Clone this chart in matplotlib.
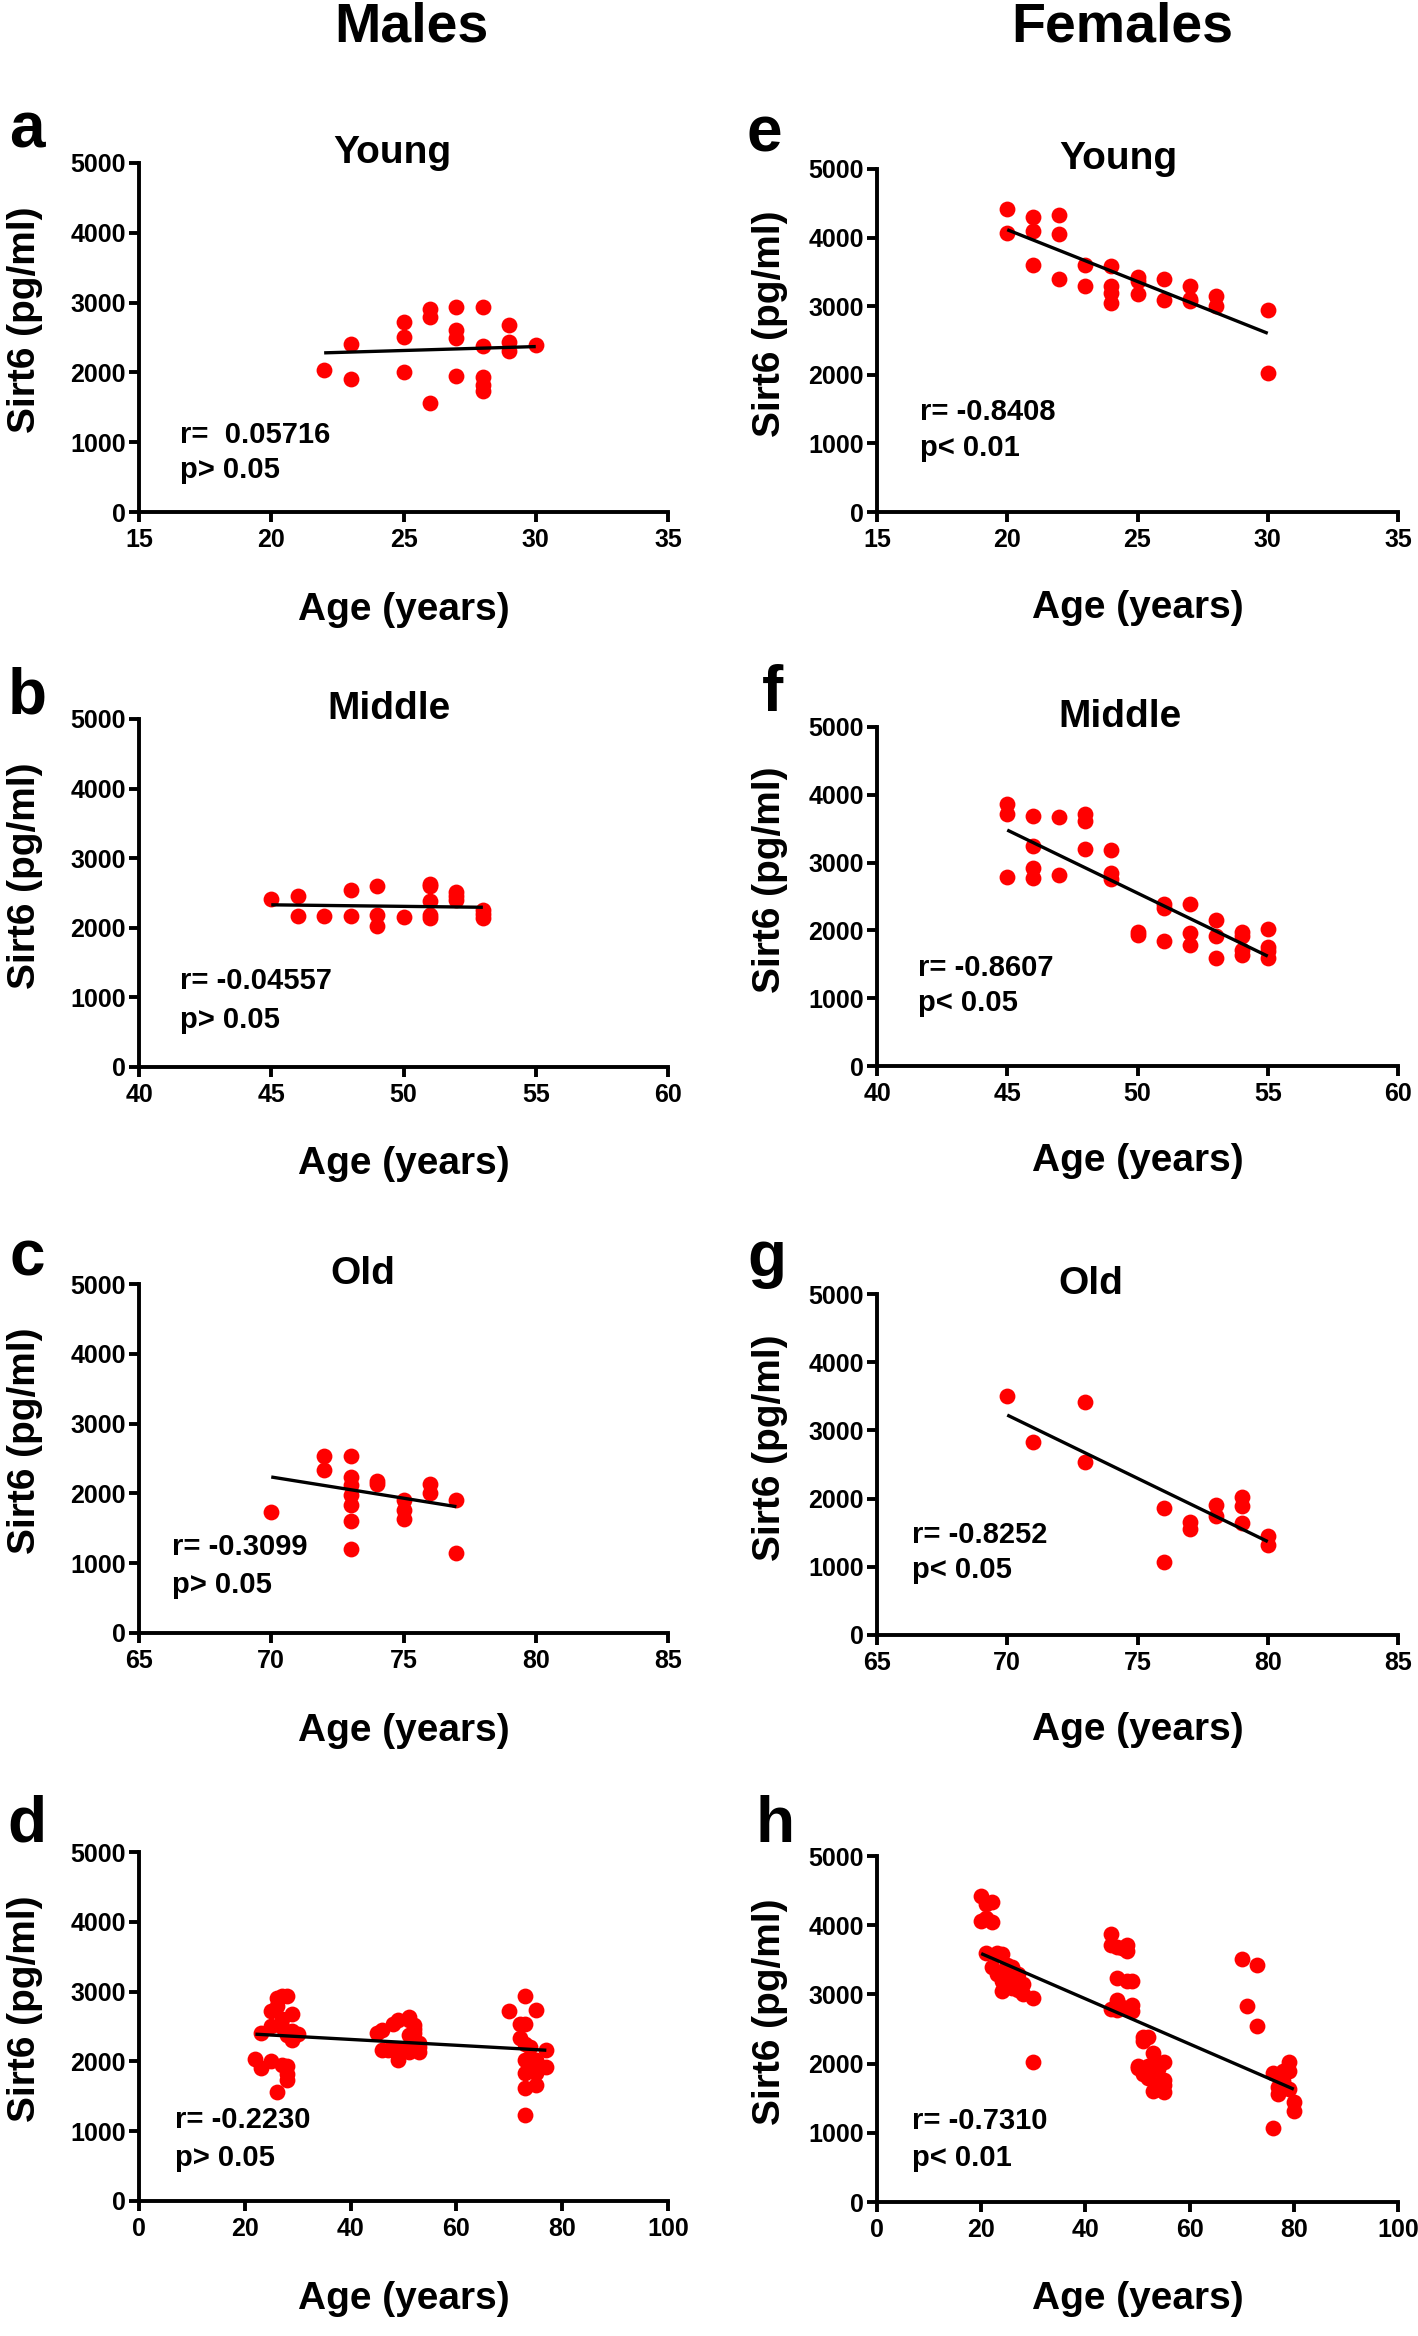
import numpy as np
import matplotlib
matplotlib.use("Agg")
import matplotlib.pyplot as plt

plt.rcParams['font.family'] = ['Liberation Sans', 'DejaVu Sans']
plt.rcParams['font.weight'] = 'bold'
plt.rcParams['axes.labelweight'] = 'bold'

# ---- males ----
m_young_age = [22, 23, 23, 25, 25, 25, 26, 26, 26, 27, 27, 27, 27, 28, 28, 28, 28, 28, 29, 29, 29, 30]
m_young_val = [2030, 2410, 1910, 2720, 2510, 2000, 2910, 2790, 1560, 2940, 2610, 2490, 1950,
               2930, 2380, 1930, 1820, 1730, 2680, 2430, 2300, 2390]

m_mid_age = [45, 46, 46, 47, 48, 48, 49, 49, 49, 50, 51, 51, 51, 51, 51, 52, 52, 52, 53, 53, 53]
m_mid_val = [2410, 2450, 2170, 2170, 2540, 2170, 2600, 2180, 2020, 2160, 2630, 2600, 2380, 2190, 2140,
             2520, 2460, 2400, 2260, 2200, 2140]

m_old_age = [70, 72, 72, 73, 73, 73, 73, 73, 73, 73, 74, 74, 75, 75, 75, 76, 76, 77, 77]
m_old_val = [1740, 2540, 2340, 2540, 2240, 2120, 1980, 1830, 1610, 1200, 2180, 2130, 1900, 1760, 1640,
             2140, 2010, 1910, 1140]

# old group as it appears in the pooled male panel
m_all_old_age = [73, 70, 75, 72, 73, 72, 73, 74, 77, 73, 74, 75, 77, 73, 75, 73, 75, 73]
m_all_old_val = [2940, 2720, 2730, 2540, 2540, 2330, 2250, 2210, 2160, 2020, 2020, 2020, 1920, 1840,
                 1840, 1620, 1660, 1230]

# ---- females ----
f_young_age = [20, 20, 21, 21, 21, 22, 22, 22, 23, 23, 24, 24, 24, 24, 25, 25, 25, 26, 26, 27, 27, 27,
               28, 28, 30, 30]
f_young_val = [4420, 4065, 4300, 4100, 3600, 4330, 4050, 3390, 3600, 3290, 3580, 3300, 3190, 3050,
               3430, 3370, 3180, 3400, 3090, 3300, 3100, 3070, 3150, 3010, 2950, 2020]

f_mid_age = [45, 45, 45, 46, 46, 46, 46, 47, 47, 48, 48, 48, 49, 49, 49, 50, 50, 51, 51, 51, 52, 52, 52,
             53, 53, 53, 54, 54, 54, 54, 55, 55, 55, 55]
f_mid_val = [3870, 3710, 2790, 3690, 3240, 2920, 2780, 3670, 2820, 3710, 3620, 3200, 3190, 2850, 2760,
             1970, 1930, 2390, 2330, 1850, 2390, 1960, 1790, 2150, 1920, 1600, 1980, 1920, 1710, 1630,
             2020, 1760, 1690, 1590]

f_old_age = [70, 71, 73, 73, 76, 76, 77, 77, 78, 78, 79, 79, 79, 80, 80]
f_old_val = [3510, 2830, 3420, 2540, 1860, 1070, 1660, 1560, 1900, 1750, 2020, 1890, 1640, 1450, 1320]

# regression lines (start age, start value, end age, end value)
fits = {
    'a': (22, 2280, 30, 2370),
    'b': (45, 2330, 53, 2295),
    'c': (70, 2235, 77, 1810),
    'd': (22, 2390, 77, 2160),
    'e': (20, 4115, 30, 2605),
    'f': (45, 3480, 55, 1620),
    'g': (70, 3225, 80, 1370),
    'h': (20, 3590, 80, 1630),
}

stats = {
    'a': ('r=  0.05716', 'p> 0.05'),
    'b': ('r= -0.04557', 'p> 0.05'),
    'c': ('r= -0.3099', 'p> 0.05'),
    'd': ('r= -0.2230', 'p> 0.05'),
    'e': ('r= -0.8408', 'p< 0.01'),
    'f': ('r= -0.8607', 'p< 0.05'),
    'g': ('r= -0.8252', 'p< 0.05'),
    'h': ('r= -0.7310', 'p< 0.01'),
}

titles = {'a': 'Young', 'b': 'Middle', 'c': 'Old', 'e': 'Young', 'f': 'Middle', 'g': 'Old'}
xticks = {'a': [15, 20, 25, 30, 35], 'b': [40, 45, 50, 55, 60], 'c': [65, 70, 75, 80, 85],
          'd': [0, 20, 40, 60, 80, 100],
          'e': [15, 20, 25, 30, 35], 'f': [40, 45, 50, 55, 60], 'g': [65, 70, 75, 80, 85],
          'h': [0, 20, 40, 60, 80, 100]}
yticks = [0, 1000, 2000, 3000, 4000, 5000]

data = {
    'a': (m_young_age, m_young_val),
    'b': (m_mid_age, m_mid_val),
    'c': (m_old_age, m_old_val),
    'd': (m_young_age + m_mid_age + m_all_old_age, m_young_val + m_mid_val + m_all_old_val),
    'e': (f_young_age, f_young_val),
    'f': (f_mid_age, f_mid_val),
    'g': (f_old_age, f_old_val),
    'h': (f_young_age + f_mid_age + f_old_age, f_young_val + f_mid_val + f_old_val),
}

# layout: axes rect, title x, stats text position (axes coords)
W, H = 1418, 2336
def rect(x0, x1, y0, y1):
    return [x0 / W, 1 - y1 / H, (x1 - x0) / W, (y1 - y0) / H]

layout = {
    'a': (rect(139, 668, 163, 512), 0.478, (0.078, 0.221, 0.121)),
    'b': (rect(139, 668, 719, 1067), 0.473, (0.078, 0.246, 0.136)),
    'c': (rect(139, 668, 1284, 1633), 0.423, (0.062, 0.246, 0.137)),
    'd': (rect(139, 668, 1852, 2201), None, (0.068, 0.231, 0.122)),
    'e': (rect(877, 1398, 169, 512), 0.464, (0.083, 0.292, 0.186)),
    'f': (rect(877, 1398, 727, 1066), 0.467, (0.079, 0.289, 0.186)),
    'g': (rect(877, 1398, 1294, 1635), 0.410, (0.067, 0.293, 0.190)),
    'h': (rect(877, 1398, 1856, 2202), None, (0.068, 0.233, 0.128)),
}
letter_pos = {'a': (27, 131), 'b': (27, 696), 'c': (27, 1259), 'd': (27, 1825),
              'e': (764, 134), 'f': (772, 694), 'g': (767, 1259), 'h': (775, 1825)}

fig = plt.figure(figsize=(14.18, 23.36), dpi=100)

for key in 'abcdefgh':
    r, tx, (sx, ry, py) = layout[key]
    ax = fig.add_axes(r)
    ages, vals = data[key]
    ax.scatter(ages, vals, s=130, color='#ff0000', linewidths=0, zorder=3, clip_on=False)
    x0, y0, x1, y1 = fits[key]
    ax.plot([x0, x1], [y0, y1], color='black', lw=2.4, zorder=4, solid_capstyle='butt')

    ticks = xticks[key]
    ax.set_xlim(ticks[0], ticks[-1])
    ax.set_ylim(0, 5000)
    ax.set_xticks(ticks)
    ax.set_yticks(yticks)
    ax.spines[['top', 'right']].set_visible(False)
    for s in ['left', 'bottom']:
        ax.spines[s].set_linewidth(2.8)
    ax.tick_params(direction='out', length=7.5, width=2.8, labelsize=18)
    ax.tick_params(axis='y', pad=2)
    ax.tick_params(axis='x', pad=4)

    ax.set_xlabel('Age (years)', fontsize=28, va='center')
    ax.xaxis.set_label_coords(0.5, -0.28)
    ax.set_ylabel('Sirt6 (pg/ml)', fontsize=28, va='center')
    ax.yaxis.set_label_coords(-0.215 if key in 'abcd' else -0.206, 0.55)

    if tx is not None:
        ax.text(tx, 1.03, titles[key], transform=ax.transAxes, ha='center', va='center', fontsize=28)

    r_txt, p_txt = stats[key]
    ax.text(sx, ry, r_txt, transform=ax.transAxes, ha='left', va='center', fontsize=21)
    ax.text(sx, py, p_txt, transform=ax.transAxes, ha='left', va='center', fontsize=21)

    lx, ly = letter_pos[key]
    fig.text(lx / W, 1 - ly / H, key, fontsize=46, ha='center', va='center')

fig.text(411 / W, 1 - 27 / H, 'Males', fontsize=40, ha='center', va='center')
fig.text(1122 / W, 1 - 27 / H, 'Females', fontsize=40, ha='center', va='center')

fig.savefig('out.png', dpi=100)
